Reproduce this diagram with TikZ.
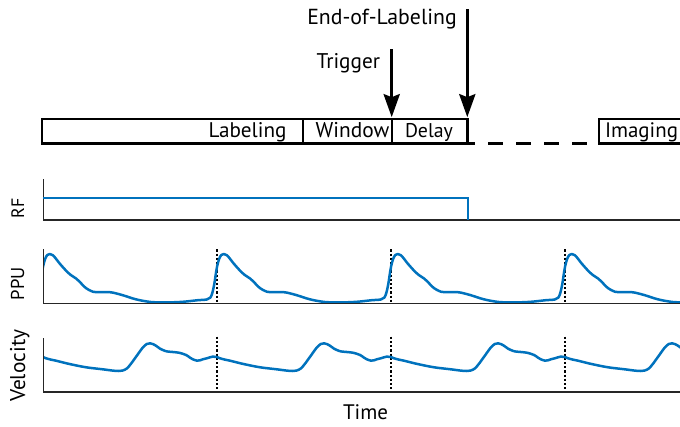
\documentclass[tikz,border=0pt]{standalone}
\usepackage{fontspec}
\setmainfont{PT Sans}
\usetikzlibrary{arrows.meta}
\definecolor{mblue}{HTML}{0072BD}
\definecolor{axgray}{HTML}{262626}
\newcommand\fitto[2]{\setbox0\hbox{\fontsize{10pt}{12pt}\selectfont #2}\pgfmathsetmacro\fitsize{10*#1/\the\wd0}\fontsize{\fitsize pt}{\fitsize pt}\selectfont #2}
\tikzset{
  seg/.style={draw, rectangle, line width=2.4pt, inner sep=0pt, outer sep=0pt, minimum height=24.6pt},
  lbl/.style={inner sep=0pt, outer sep=0pt, text=black},
  bigarrow/.style={line width=3.4pt, -{Stealth[length=23pt,width=16pt,inset=3pt]}},
  axis/.style={draw=axgray, line width=1.6pt},
  trig/.style={line width=2.2pt, dash pattern=on 2.2pt off 2pt},
  wave/.style={mblue, line width=2.5pt, line join=round, line cap=round}
}
\begin{document}
\begin{tikzpicture}[x=1pt, y=-1pt]
\useasboundingbox (0,0) rectangle (680,426);
% timeline
\node[seg, minimum width=260.6pt] (lab) at (172.5,131) {};
\node[seg, minimum width=88.9pt] (win) at (347.25,131) {};
\node[seg, minimum width=75.6pt] (del) at (429.5,131) {};
\node[seg, minimum width=92pt, anchor=north west] (img) at (598.8,118.7) {};
\draw[line width=2.4pt, dash pattern=on 15pt off 13pt, dash phase=7pt] (del.south east) -- (img.south west);
\node[lbl, anchor=base east] (tlab) at (286.5,137.3) {\fitto{78}{Labeling}};
\node[lbl, anchor=base] (twin) at (352.5,137.3) {\fitto{73.6}{Window}};
\node[lbl, anchor=base west] (tdel) at (405,137.3) {\fitto{48}{Delay}};
\node[lbl, anchor=base west] (timg) at (605,137.3) {\fitto{73}{Imaging}};
% arrows
\coordinate (trigtop) at (391.7,49);
\coordinate (eoltop) at (467.3,9.3);
\draw[bigarrow, shorten >=1.5pt] (trigtop) -- (del.north west);
\draw[bigarrow, shorten >=1.5pt] (eoltop) -- (del.north east);
\node[lbl, anchor=base east] (ttrig) at (380,68.3) {\fitto{63.3}{Trigger}};
\node[lbl, anchor=base east] (teol) at (456.8,24.5) {\fitto{149.5}{End-of-Labeling}};
% axes labels
\node[lbl, rotate=90, anchor=base] (yrf) at (24,208) {\fitto{20}{RF}};
\node[lbl, rotate=90, anchor=base] (yppu) at (24,283.5) {\fitto{33}{PPU}};
\node[lbl, rotate=90, anchor=base] (yvel) at (25,365.8) {\fitto{72}{Velocity}};
\node[lbl, anchor=base] (xtime) at (365.5,419) {\fitto{45}{Time}};
% RF axes
\coordinate (rftop) at (43.3,179.3);
\coordinate (rfo) at (43.3,220.2);
\coordinate (rfend) at (680,220.2);
\draw[axis] (rftop) -- (rfo) -- (rfend);
\coordinate (rfa) at (43.3,198.3);
\coordinate (rfb) at (468,198.3);
\coordinate (rfc) at (468,220.2);
\draw[mblue, line width=2.3pt] (rfa) -- (rfb) -- (rfc);
% PPU axes
\coordinate (ptop) at (43.3,249.3);
\coordinate (po) at (43.3,303.5);
\coordinate (pend) at (680,303.5);
% Velocity axes
\coordinate (vtop) at (43.3,338.3);
\coordinate (vo) at (43.3,392);
\coordinate (vend) at (680,392);
% trigger dotted lines
\foreach \xx in {216.8,390.8,564.8}{
  \draw[trig] (\xx,249.3) -- (\xx,303.5);
  \draw[trig] (\xx,336.7) -- (\xx,392);
}
% waveforms
\gdef\ppulist{}
\foreach \k in {-1,0,1,2,3}{
  \foreach \t/\y in {-10/299.5,-6.5/297.6,-4.5/293,-2.5/284,-1/274,0.6/265,2.5/258.5,4.5/255,7/254,10/255.2,13/258.5,16.7/263.3,23.3/270.7,28/275,33.3/278.5,38/283,43/288,50/291.7,57/292.2,64/292,70/292.6,80/295.2,93/299.3,108/302,125/302.4,140/301.8,155/300.2}{
    \pgfmathsetmacro\px{42.8+174*\k+\t}
    \xdef\ppulist{\ppulist (\px,\y)}
  }
}
\gdef\vellist{}
\foreach \k in {-1,0,1,2,3}{
  \foreach \t/\y in {-10/358.3,-4/356.6,0/357,3.3/358.3,8/359.6,13.3/360.7,26.7/364,43.3/367.3,60/369.3,70/370.6,76/371,80/370.5,84/368.5,88/364,93.3/356.7,100/347.5,104/344,107.3/343.3,110.5/344.2,113.3/345.8,117/348.5,120/350,124/351.4,130/352,136.7/352.8,143.3/355,147/357.5,150/359.3,154/360.6,157/360.4,160/359.3}{
    \pgfmathsetmacro\px{42.8+174*\k+\t}
    \xdef\vellist{\vellist (\px,\y)}
  }
}
\begin{scope}
\clip (43.3,240) rectangle (681,310);
\edef\tmp{\noexpand\draw[wave] plot[smooth, tension=0.5] coordinates {\ppulist};}\tmp
\end{scope}
\begin{scope}
\clip (43.3,330) rectangle (681,395);
\edef\tmp{\noexpand\draw[wave] plot[smooth, tension=0.5] coordinates {\vellist};}\tmp
\end{scope}
\draw[axis] (ptop) -- (po) -- (pend);
\draw[axis] (vtop) -- (vo) -- (vend);
\end{tikzpicture}
\end{document}
